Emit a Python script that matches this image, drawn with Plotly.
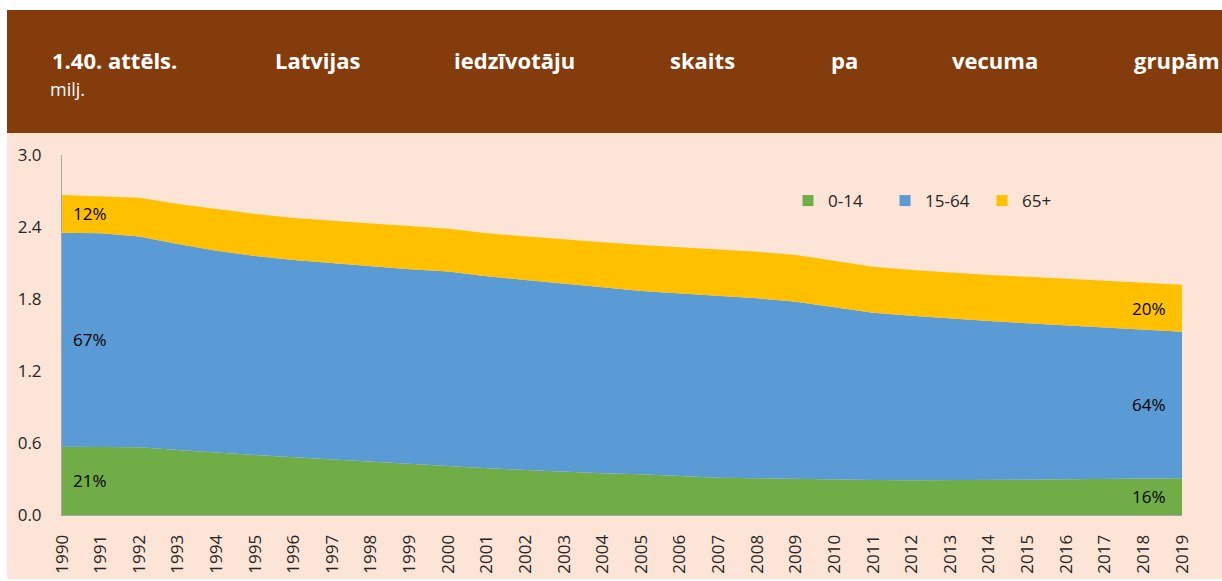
import plotly.graph_objects as go

# Latvian population by age group, millions
years = list(range(1990, 2020))
age_0_14 = [0.569, 0.569, 0.564, 0.542, 0.519, 0.500, 0.481, 0.464, 0.444, 0.425,
            0.408, 0.389, 0.375, 0.356, 0.348, 0.339, 0.325, 0.311, 0.306, 0.300,
            0.297, 0.292, 0.289, 0.289, 0.292, 0.294, 0.297, 0.300, 0.302, 0.306]
age_15_64 = [1.784, 1.778, 1.756, 1.716, 1.684, 1.658, 1.644, 1.633, 1.625, 1.622,
             1.622, 1.601, 1.583, 1.569, 1.549, 1.528, 1.522, 1.517, 1.500, 1.478,
             1.434, 1.394, 1.372, 1.347, 1.325, 1.303, 1.283, 1.264, 1.245, 1.222]
age_65 = [0.314, 0.311, 0.324, 0.334, 0.347, 0.350, 0.350, 0.353, 0.361, 0.361,
          0.355, 0.357, 0.362, 0.372, 0.375, 0.383, 0.383, 0.386, 0.388, 0.389,
          0.387, 0.383, 0.381, 0.383, 0.383, 0.389, 0.389, 0.389, 0.389, 0.390]

groups = ["0-14", "15-64", "65+"]
colors = ["#70AD47", "#5B9BD5", "#FFC000"]
series = [age_0_14, age_15_64, age_65]

title_words = ["1.40. attēls.", "Latvijas", "iedzīvotāju", "skaits", "pa", "vecuma", "grupām"]
title_word_px = [50, 273, 452, 668, 829, 950, 1132]
unit_label = "milj."

W, H = 1222, 581
L, R, T, B = 62, 40, 155, 66
PW, PH = W - L - R, H - T - B
FONT = "Open Sans"
TXT = "#262626"


def px_x(px):
    return (px - L) / PW


def px_y(py):
    return (H - B - py) / PH


fig = go.Figure()

for name, vals, col in zip(groups, series, colors):
    fig.add_trace(go.Scatter(
        x=years, y=vals, name=name, mode="lines", stackgroup="pop",
        line=dict(width=0, color=col), fillcolor=col, showlegend=False,
        hoverinfo="x+y+name"))

# square legend swatches
for name, col in zip(groups, colors):
    fig.add_trace(go.Scatter(
        x=[None], y=[None], name=name, mode="markers",
        marker=dict(symbol="square", size=11, color=col), showlegend=True))

# share labels at first and last year, centred in each band
for idx, anchor, shift in [(0, "left", 9), (len(years) - 1, "right", -14)]:
    total = age_0_14[idx] + age_15_64[idx] + age_65[idx]
    base = 0.0
    for vals in series:
        v = vals[idx]
        fig.add_annotation(
            x=years[idx], y=base + v / 2, text=f"{v / total * 100:.0f}%",
            showarrow=False, xanchor=anchor, yanchor="middle", xshift=shift,
            font=dict(family=FONT, size=17, color="#000000"))
        base += v

# header band and chart background
fig.add_shape(type="rect", xref="paper", yref="paper", layer="below",
              x0=px_x(7), x1=px_x(1222), y0=px_y(579), y1=px_y(133),
              fillcolor="#FCE4D6", line=dict(width=0))
fig.add_shape(type="rect", xref="paper", yref="paper", layer="below",
              x0=px_x(7), x1=px_x(1222), y0=px_y(133), y1=px_y(10),
              fillcolor="#843C0C", line=dict(width=0))

for word, wx in zip(title_words, title_word_px):
    fig.add_annotation(
        x=px_x(wx), y=px_y(60), xref="paper", yref="paper", text=f"<b>{word}</b>",
        showarrow=False, xanchor="left", yanchor="middle",
        font=dict(family=FONT, size=22, color="#FFFFFF"))
fig.add_annotation(
    x=px_x(48), y=px_y(89), xref="paper", yref="paper", text=unit_label,
    showarrow=False, xanchor="left", yanchor="middle",
    font=dict(family=FONT, size=18, color="#FFFFFF"))

fig.update_layout(
    width=W, height=H,
    margin=dict(l=L, r=R, t=T, b=B, pad=0),
    paper_bgcolor="#FFFFFF", plot_bgcolor="rgba(0,0,0,0)",
    font=dict(family=FONT, size=17, color=TXT),
    legend=dict(orientation="h", x=px_x(788), y=px_y(201), traceorder="normal",
                xanchor="left", yanchor="middle", bgcolor="rgba(0,0,0,0)",
                entrywidth=52, entrywidthmode="pixels",
                font=dict(family=FONT, size=17, color=TXT)),
    xaxis=dict(range=[1990, 2019], tickmode="array", tickvals=years,
               ticktext=[str(y) for y in years], tickangle=-90,
               showgrid=False, zeroline=False, showline=True, automargin=False,
               linecolor="#A6A6A6", linewidth=1, ticks="outside",
               ticklen=12, tickcolor="rgba(0,0,0,0)",
               tickfont=dict(family=FONT, size=17, color=TXT)),
    yaxis=dict(range=[0, 3.0], tickmode="array",
               tickvals=[0, 0.6, 1.2, 1.8, 2.4, 3.0],
               ticktext=["0.0", "0.6", "1.2", "1.8", "2.4", "3.0"],
               showgrid=False, zeroline=False, showline=True, automargin=False,
               linecolor="#A6A6A6", linewidth=1, ticks="outside",
               ticklen=16, tickcolor="rgba(0,0,0,0)",
               tickfont=dict(family=FONT, size=17, color=TXT)),
)

fig.write_html("out.html")
